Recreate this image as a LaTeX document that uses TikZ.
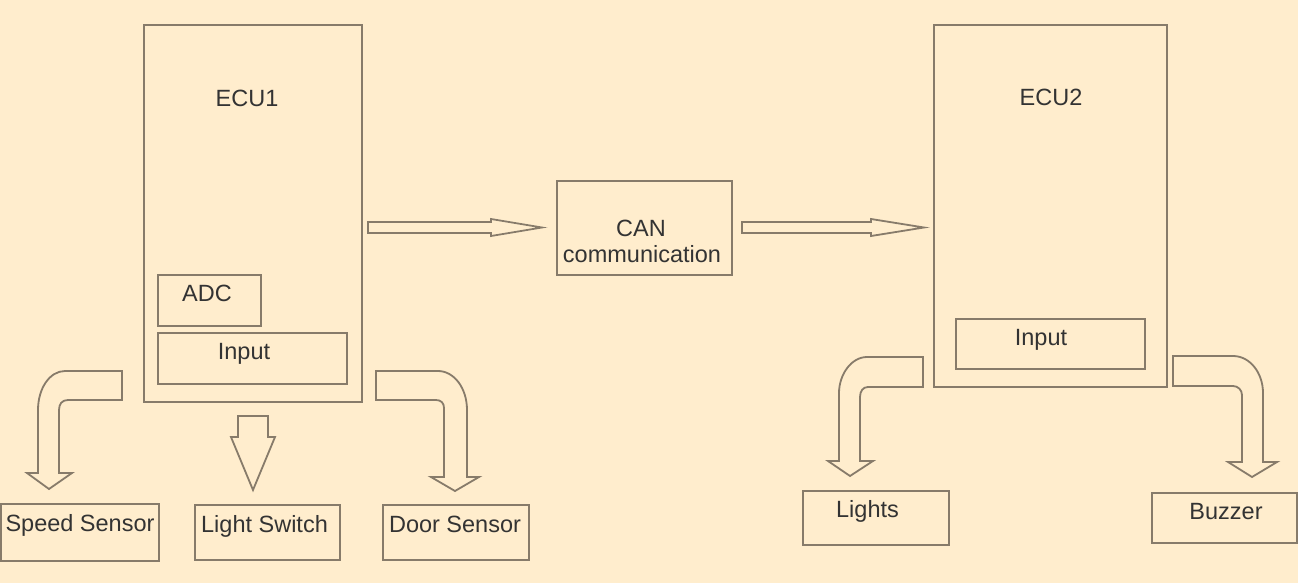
\documentclass[tikz,border=0pt]{standalone}
\usepackage{fontspec}
\setmainfont{Liberation Sans}
\definecolor{bg}{HTML}{FFEDCD}
\definecolor{ln}{HTML}{877B6A}
\definecolor{tx}{HTML}{333333}
\begin{document}
\begin{tikzpicture}[x=1pt,y=-1pt,
  box/.style={draw=ln,line width=1.8pt,inner sep=0pt,rectangle},
  lbl/.style={anchor=base,inner sep=0pt,text=tx,font=\fontsize{23.5}{27}\selectfont,align=center},
  blk/.style={draw=ln,line width=1.8pt,line join=miter}]
\fill[bg] (0,0) rectangle (1298,583);
\useasboundingbox (0,0) rectangle (1298,583);
% boxes
\node[box,minimum width=218pt,minimum height=377pt] (ecu1) at (253,213.5) {};
\node[box,minimum width=103pt,minimum height=51pt] (adc) at (209.5,300.5) {};
\node[box,minimum width=189pt,minimum height=51pt] (in1) at (252.5,358.5) {};
\node[box,minimum width=175pt,minimum height=94pt] (can) at (644.5,228) {};
\node[box,minimum width=233pt,minimum height=362pt] (ecu2) at (1050.5,206) {};
\node[box,minimum width=189pt,minimum height=50pt] (in2) at (1050.5,344) {};
\node[box,minimum width=158pt,minimum height=57pt] (speed) at (80,532.5) {};
\node[box,minimum width=145pt,minimum height=55pt] (lsw) at (267.5,532.5) {};
\node[box,minimum width=146pt,minimum height=55pt] (door) at (456,532.5) {};
\node[box,minimum width=146pt,minimum height=54pt] (lights) at (876,518) {};
\node[box,minimum width=145pt,minimum height=50pt] (buzz) at (1224.5,518) {};
% labels
\node[lbl] (tecu1) at (247,107) {ECU1};
\node[lbl] (tadc) at (207,301) {ADC};
\node[lbl] (tin1) at (244,359) {Input};
\node[lbl] (tcan1) at (641,236) {CAN};
\node[lbl] (tcan2) at (642,262) {communication};
\node[lbl] (tecu2) at (1051,106) {ECU2};
\node[lbl] (tin2) at (1041,345) {Input};
\node[lbl] (tspeed) at (80,531) {Speed Sensor};
\node[lbl] (tlsw) at (264.5,532) {Light Switch};
\node[lbl] (tdoor) at (455,532) {Door Sensor};
\node[lbl] (tlights) at (867.5,517) {Lights};
\node[lbl] (tbuzz) at (1226,519) {Buzzer};
% block arrows
\draw[blk] (368,222) -- (491,222) -- (491,219) -- (542,227.5) -- (491,236) -- (491,233) -- (368,233) -- cycle;
\draw[blk] (742,222) -- (871,222) -- (871,219) -- (924,227.5) -- (871,236) -- (871,233) -- (742,233) -- cycle;
\draw[blk] (122,371) -- (65,371) .. controls (50,371) and (38,388) .. (38,410) -- (38,473) -- (27,473) -- (49,489) -- (72,473) -- (59,473) -- (59,410) .. controls (59,404) and (62,400) .. (68,400) -- (122,400) -- cycle;
\draw[blk] (238,416) -- (268,416) -- (268,437) -- (275,437) -- (253,490) -- (231,437) -- (238,437) -- cycle;
\draw[blk] (376,371) -- (438,371) .. controls (454,371) and (467,388) .. (467,410) -- (467,477) -- (479,477) -- (455,491) -- (431,477) -- (444,477) -- (444,408) .. controls (444,403) and (441,400) .. (436,400) -- (376,400) -- cycle;
\draw[blk] (923,357) -- (867,357) .. controls (851,357) and (839,375) .. (839,393) -- (839,461) -- (828,461) -- (850,476) -- (873,461) -- (860,461) -- (860,397) .. controls (860,391) and (863,387) .. (868,387) -- (923,387) -- cycle;
\draw[blk] (1173,356) -- (1233,356) .. controls (1250,356) and (1263,373) .. (1263,393) -- (1263,462) -- (1277,462) -- (1252,477) -- (1228,462) -- (1242,462) -- (1242,395) .. controls (1242,390) and (1238,386) .. (1233,386) -- (1173,386) -- cycle;
\end{tikzpicture}
\end{document}
